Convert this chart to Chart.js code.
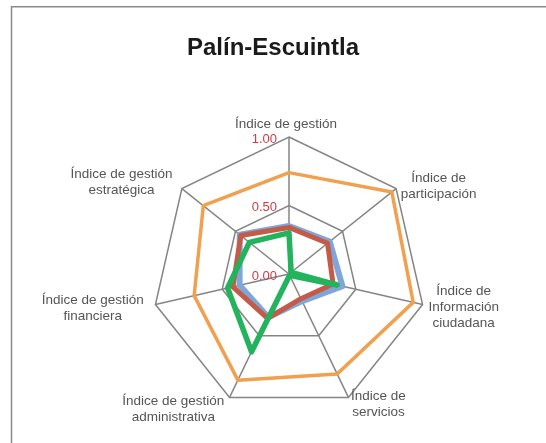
<!DOCTYPE html>
<html><head><meta charset="utf-8">
<script src="https://cdn.jsdelivr.net/npm/chart.js@4"></script>
<style>html,body{margin:0;padding:0;background:#fff;}#wrap{width:546px;height:443px;position:relative}</style>
</head><body><div id="wrap"><canvas id="c" width="546" height="443"></canvas></div>
<script>
const categories = [
  ['Índice de gestión'],
  ['Índice de', 'participación'],
  ['Índice de', 'Información', 'ciudadana'],
  ['Índice de', 'servicios'],
  ['Índice de gestión', 'administrativa'],
  ['Índice de gestión', 'financiera'],
  ['Índice de gestión', 'estratégica']
];
const seriesOrange = [0.74, 0.96, 0.93, 0.81, 0.86, 0.71, 0.80];
const seriesBlue   = [0.35, 0.38, 0.40, 0.22, 0.35, 0.37, 0.46];
const seriesRed    = [0.34, 0.36, 0.33, 0.20, 0.36, 0.42, 0.45];
const seriesGreen  = [0.30, 0.02, 0.36, 0.01, 0.63, 0.46, 0.37];
const tickValues = [0, 0.5, 1];
const tickLabels = ['0.00', '0.50', '1.00'];
const titleText = 'Palín-Escuintla';

const FONT = '"Liberation Sans", Arial, Helvetica, sans-serif';

const framePlugin = {
  id: 'frame',
  beforeDraw(chart) {
    const ctx = chart.ctx;
    ctx.save();
    ctx.fillStyle = '#ffffff';
    ctx.fillRect(0, 0, chart.width, chart.height);
    ctx.strokeStyle = '#8a8a8a';
    ctx.lineWidth = 1.5;
    ctx.strokeRect(11.5, 6.75, 700, 700);
    ctx.restore();
  }
};

const labelsPlugin = {
  id: 'labelsPlugin',
  afterDraw(chart) {
    const s = chart.scales.r;
    const ctx = chart.ctx;
    ctx.save();
    ctx.font = '13px ' + FONT;
    ctx.fillStyle = '#d03a46';
    ctx.textAlign = 'right';
    ctx.textBaseline = 'middle';
    tickValues.forEach((v, i) => {
      const d = s.getDistanceFromCenterForValue(v);
      ctx.fillText(tickLabels[i], s.xCenter - 12, s.yCenter - d + 2);
    });
    ctx.font = '13.5px ' + FONT;
    ctx.fillStyle = '#555555';
    ctx.textAlign = 'center';
    const lh = 16;
    categories.forEach((lines, i) => {
      const base = s.getPointPosition(i, s.drawingArea);
      const dx = base.x - s.xCenter;
      const pad = dx < -1 ? 12 : 6;
      const p = s.getPointPosition(i, s.drawingArea + pad);
      const w = Math.max(...lines.map(t => ctx.measureText(t).width));
      const h = lines.length * lh;
      let cx, top;
      if (Math.abs(dx) < 1) {
        cx = p.x - 3;
        top = p.y - h + 1;
      } else if (dx > 0) {
        cx = p.x + w / 2;
        top = p.y - h / 2 + 1;
      } else {
        cx = p.x - w / 2;
        top = p.y - h / 2 + 1;
      }
      ctx.textBaseline = 'middle';
      lines.forEach((t, k) => ctx.fillText(t, cx, top + lh * k + lh / 2));
    });
    ctx.restore();
  }
};

const mk = (data, color, width, order) => ({
  data, borderColor: color, backgroundColor: 'rgba(0,0,0,0)', borderWidth: width,
  fill: false, pointRadius: 0, pointHoverRadius: 0, order,
  borderJoinStyle: 'round', tension: 0
});

new Chart(document.getElementById('c'), {
  type: 'radar',
  data: {
    labels: categories.map(l => l.join(' ')),
    datasets: [
      mk(seriesGreen, '#22b35c', 5.5, 0),
      mk(seriesRed, '#c45a48', 5, 1),
      mk(seriesBlue, '#7ea6d9', 6, 2),
      mk(seriesOrange, '#f0a04e', 3.5, 3)
    ]
  },
  options: {
    responsive: false,
    animation: false,
    devicePixelRatio: 1,
    plugins: {
      legend: { display: false },
      tooltip: { enabled: false },
      title: {
        display: true, text: titleText, color: '#1a1a1a',
        font: { family: FONT, size: 24, weight: 'bold' },
        padding: { top: 34, bottom: 10 }
      }
    },
    scales: {
      r: {
        min: 0, max: 1,
        ticks: { stepSize: 0.5, display: false },
        grid: { color: '#858585', lineWidth: 1.5 },
        angleLines: { color: '#858585', lineWidth: 1.5 },
        pointLabels: { display: false },
        afterFit(scale) {
          scale.xCenter = 289;
          scale.yCenter = 274;
          scale.drawingArea = 137;
        }
      }
    }
  },
  plugins: [framePlugin, labelsPlugin]
});
</script>
</body></html>
